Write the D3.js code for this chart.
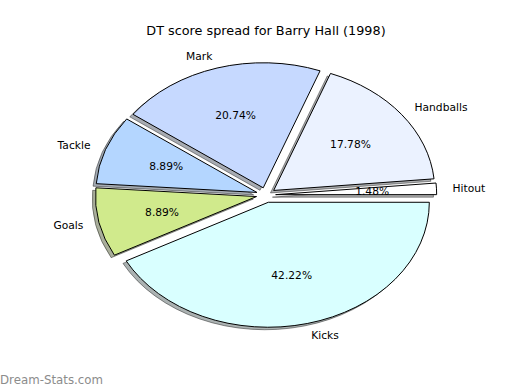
<!DOCTYPE html>
<html>
<head>
<meta charset="utf-8">
<script src="https://cdn.jsdelivr.net/npm/d3@7"></script>
<style>
  body { margin: 0; background: #fff; }
  text { font-family: "DejaVu Sans", sans-serif; fill: #000; }
</style>
</head>
<body>
<svg id="chart" width="520" height="390"></svg>
<script>
// DT points per stat, matplotlib order (counter-clockwise from 3 o'clock)
const labels = ['Hitout', 'Handballs', 'Mark', 'Tackle', 'Goals', 'Kicks'];
const scores = [2, 24, 28, 12, 12, 57];
const colors = ['#ffffff', '#ebf2ff', '#c6d9ff', '#b4d6ff', '#d0ea8c', '#d9ffff'];
const explode = [0.06, 0.06, 0.06, 0.06, 0.06, 0.06];

const width = 520, height = 390;
const cx = 266, cy = 195, rx = 161, ry = 125;

const svg = d3.select('#chart');

svg.append('text')
    .attr('x', 266)
    .attr('y', 30)
    .attr('text-anchor', 'middle')
    .attr('dominant-baseline', 'central')
    .attr('font-size', 12.8)
    .text('DT score spread for Barry Hall (1998)');

// start at 3 o'clock, go counter-clockwise like pyplot.pie
const pie = d3.pie().sort(null).startAngle(Math.PI / 2).endAngle(Math.PI / 2 - 2 * Math.PI);
const arcs = pie(scores);
const total = d3.sum(scores);

const arc = d3.arc().innerRadius(0).outerRadius(1);

// x,y in unit circle for a d3 angle
const unit = a => [Math.sin(a), -Math.cos(a)];

const g = svg.append('g').attr('transform', `translate(${cx},${cy}) scale(${rx},${ry})`);

const offs = arcs.map((d, i) => {
    const [ux, uy] = unit((d.startAngle + d.endAngle) / 2);
    return [ux * explode[i], uy * explode[i], ux, uy];
});

// shadows first, below all wedges
g.selectAll('path.shadow')
    .data(arcs)
    .enter()
    .append('path')
    .attr('class', 'shadow')
    .attr('d', arc)
    .attr('transform', (d, i) => `translate(${offs[i][0] - 0.02},${offs[i][1] + 0.02})`)
    .style('fill', (d, i) => {
        const c = d3.rgb(colors[i]);
        return d3.rgb(c.r * 0.4, c.g * 0.4, c.b * 0.4);
    })
    .style('fill-opacity', 0.5)
    .style('stroke', '#000')
    .style('stroke-opacity', 0.4)
    .style('stroke-width', 1)
    .attr('vector-effect', 'non-scaling-stroke');

g.selectAll('path.wedge')
    .data(arcs)
    .enter()
    .append('path')
    .attr('class', 'wedge')
    .attr('d', arc)
    .attr('transform', (d, i) => `translate(${offs[i][0]},${offs[i][1]})`)
    .style('fill', (d, i) => colors[i])
    .style('stroke', '#000')
    .style('stroke-width', 1)
    .attr('vector-effect', 'non-scaling-stroke');

// labels at 1.1 radius, percentages at 0.6 radius
svg.selectAll('text.label')
    .data(arcs)
    .enter()
    .append('text')
    .attr('class', 'label')
    .attr('x', (d, i) => cx + (offs[i][0] + 1.1 * offs[i][2]) * rx)
    .attr('y', (d, i) => cy + (offs[i][1] + 1.1 * offs[i][3]) * ry)
    .attr('text-anchor', (d, i) => offs[i][2] > 0 ? 'start' : 'end')
    .attr('dominant-baseline', 'central')
    .attr('font-size', 10.7)
    .text((d, i) => labels[i]);

svg.selectAll('text.pct')
    .data(arcs)
    .enter()
    .append('text')
    .attr('class', 'pct')
    .attr('x', (d, i) => cx + (offs[i][0] + 0.6 * offs[i][2]) * rx)
    .attr('y', (d, i) => cy + (offs[i][1] + 0.6 * offs[i][3]) * ry)
    .attr('text-anchor', 'middle')
    .attr('dominant-baseline', 'central')
    .attr('font-size', 10.7)
    .text(d => d3.format('.2f')(d.value / total * 100) + '%');

svg.append('text')
    .attr('x', 0)
    .attr('y', 380)
    .attr('dominant-baseline', 'central')
    .attr('font-size', 11.8)
    .style('fill', '#8c8c8c')
    .text('Dream-Stats.com');
</script>
</body>
</html>
